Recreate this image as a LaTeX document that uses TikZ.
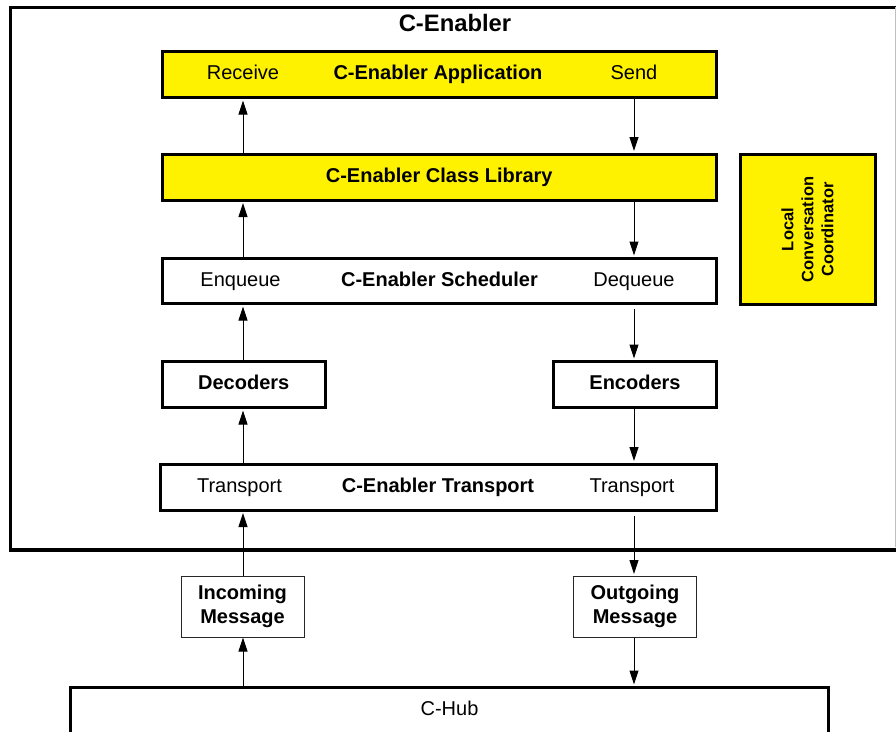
\documentclass[tikz,border=0pt]{standalone}
\usepackage{fontspec}
\setmainfont{Liberation Sans}
\usetikzlibrary{arrows.meta}

\begin{document}
\begin{tikzpicture}[x=1pt,y=-1pt,
  box/.style={draw, line width=3pt, rectangle, inner sep=0pt,
              text height=15pt, text depth=5pt},
  ybox/.style={box, fill=yellow},
  wbox/.style={box, fill=white},
  bigfont/.style={font=\fontsize{20}{24}\selectfont},
  boldfont/.style={font=\bfseries\fontsize{20}{24}\selectfont},
  lbl/.style={inner sep=0pt, text height=15pt, text depth=5pt, bigfont},
  blbl/.style={lbl, boldfont},
  msg/.style={draw=black!85, line width=1pt, fill=white, inner sep=0pt,
              minimum width=123pt, minimum height=61pt, align=center, boldfont},
  flow/.style={line width=1pt, shorten >=1.5pt,
               -{Triangle[length=14pt,width=9pt]}},
]
\useasboundingbox (0,0) rectangle (896,731);
\fill[white] (0,0) rectangle (896,731);

% enclosing C-Enabler frame (its right side runs past the page edge)
\node[draw, line width=3.5pt, inner sep=0pt, minimum width=896.5pt,
      minimum height=542.5pt, anchor=north west] (enabler) at (8.5,5.5) {};
\draw[black!25, line width=1pt] (895.5,7) -- (895.5,546.5);
\node[anchor=base, inner sep=0pt, font=\bfseries\fontsize{23.8}{28}\selectfont]
      (title) at (455,31.7) {C-Enabler};

% application layer
\node[ybox, minimum width=553.5pt, minimum height=46.5pt] (app) at (439.25,74.25) {};
\node[lbl]  (recv)    at (243,74.25) {Receive};
\node[blbl] (apptext) at (438,74.25) {C-Enabler Application};
\node[lbl]  (send)    at (634,74.25) {Send};

% class library
\node[ybox, boldfont, minimum width=553.5pt, minimum height=46pt] (cls)
      at (439.25,177) {C-Enabler Class Library};

% scheduler
\node[wbox, minimum width=553.5pt, minimum height=45pt] (sch) at (439.25,281) {};
\node[lbl]  (enq)     at (240.5,281) {Enqueue};
\node[blbl] (schtext) at (439.5,281) {C-Enabler Scheduler};
\node[lbl]  (deq)     at (634,281) {Dequeue};

% local conversation coordinator
\node[ybox, minimum width=134.5pt, minimum height=150pt] (lcc) at (807.75,229) {};
\node[rotate=90, align=center, inner sep=0pt,
      font=\bfseries\fontsize{16.5}{20}\selectfont] (lcctext) at (807.5,229.5)
      {Local\\Conversation\\Coordinator};

% codecs
\node[wbox, boldfont, minimum width=162.5pt, minimum height=46pt] (dec)
      at (243.75,384.5) {Decoders};
\node[wbox, boldfont, minimum width=163pt, minimum height=46pt] (enc)
      at (635,384.5) {Encoders};

% transport
\node[wbox, minimum width=555.5pt, minimum height=46pt] (trn) at (438.25,487) {};
\node[lbl]  (trnl)    at (239.5,487) {Transport};
\node[blbl] (trntext) at (438,487) {C-Enabler Transport};
\node[lbl]  (trnr)    at (632,487) {Transport};

% messages
\node[msg] (inc) at (242.5,606.5) {Incoming\\Message};
\node[msg] (out) at (635,606.5) {Outgoing\\Message};

% hub (bottom side runs past the page edge)
\node[draw, line width=3pt, inner sep=0pt, minimum width=758pt,
      minimum height=80pt, anchor=north] (hub) at (449,686) {};
\node[anchor=base, inner sep=0pt, bigfont] (hubtext) at (449.5,715.5) {C-Hub};

% message flow
\coordinate (L) at (243,0);
\coordinate (R) at (634,0);
\draw[flow] (L |- cls.north) -- (L |- app.south);
\draw[flow] (R |- app.south) -- (R |- cls.north);
\draw[flow] (L |- sch.north) -- (L |- cls.south);
\draw[flow] (R |- cls.south) -- (R |- sch.north);
\draw[flow] (L |- dec.north) -- (L |- sch.south);
\draw[flow, shorten <=4pt] (R |- sch.south) -- (R |- enc.north);
\draw[flow] (L |- trn.north) -- (L |- dec.south);
\draw[flow] (R |- enc.south) -- (R |- trn.north);
\draw[flow] (L |- inc.north) -- (L |- trn.south);
\draw[flow, shorten <=4pt] (R |- trn.south) -- (R |- out.north);
\draw[flow, shorten >=0pt] (L |- hub.north) -- (L |- inc.south);
\draw[flow] (R |- out.south) -- (R |- hub.north);
\end{tikzpicture}
\end{document}
